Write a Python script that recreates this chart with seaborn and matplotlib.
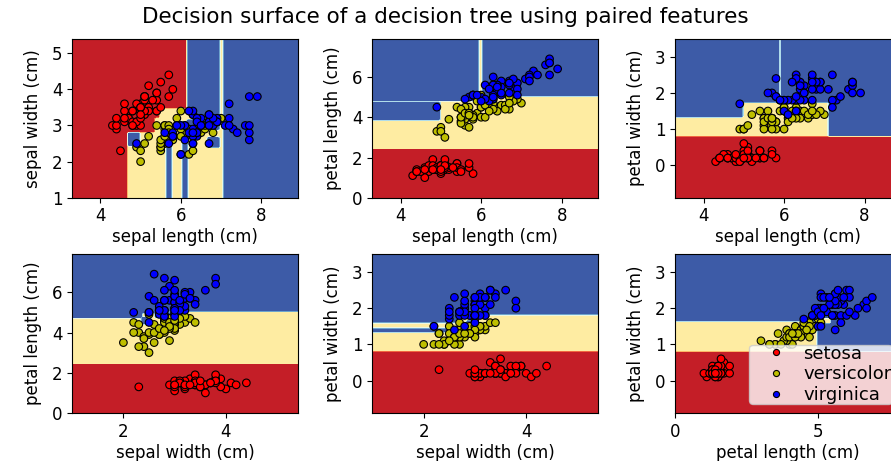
import numpy as np
import matplotlib
matplotlib.use("Agg")
import matplotlib.pyplot as plt
from matplotlib.ticker import MultipleLocator
import seaborn as sns

# iris measurements (cm), 50 setosa, 50 versicolor, 50 virginica
sepal_length = [
    5.1, 4.9, 4.7, 4.6, 5.0, 5.4, 4.6, 5.0, 4.4, 4.9, 5.4, 4.8, 4.8, 4.3, 5.8, 5.7, 5.4, 5.1, 5.7, 5.1,
    5.4, 5.1, 4.6, 5.1, 4.8, 5.0, 5.0, 5.2, 5.2, 4.7, 4.8, 5.4, 5.2, 5.5, 4.9, 5.0, 5.5, 4.9, 4.4, 5.1,
    5.0, 4.5, 4.4, 5.0, 5.1, 4.8, 5.1, 4.6, 5.3, 5.0,
    7.0, 6.4, 6.9, 5.5, 6.5, 5.7, 6.3, 4.9, 6.6, 5.2, 5.0, 5.9, 6.0, 6.1, 5.6, 6.7, 5.6, 5.8, 6.2, 5.6,
    5.9, 6.1, 6.3, 6.1, 6.4, 6.6, 6.8, 6.7, 6.0, 5.7, 5.5, 5.5, 5.8, 6.0, 5.4, 6.0, 6.7, 6.3, 5.6, 5.5,
    5.5, 6.1, 5.8, 5.0, 5.6, 5.7, 5.7, 6.2, 5.1, 5.7,
    6.3, 5.8, 7.1, 6.3, 6.5, 7.6, 4.9, 7.3, 6.7, 7.2, 6.5, 6.4, 6.8, 5.7, 5.8, 6.4, 6.5, 7.7, 7.7, 6.0,
    6.9, 5.6, 7.7, 6.3, 6.7, 7.2, 6.2, 6.1, 6.4, 7.2, 7.4, 7.9, 6.4, 6.3, 6.1, 7.7, 6.3, 6.4, 6.0, 6.9,
    6.7, 6.9, 5.8, 6.8, 6.7, 6.7, 6.3, 6.5, 6.2, 5.9,
]
sepal_width = [
    3.5, 3.0, 3.2, 3.1, 3.6, 3.9, 3.4, 3.4, 2.9, 3.1, 3.7, 3.4, 3.0, 3.0, 4.0, 4.4, 3.9, 3.5, 3.8, 3.8,
    3.4, 3.7, 3.6, 3.3, 3.4, 3.0, 3.4, 3.5, 3.4, 3.2, 3.1, 3.4, 4.1, 4.2, 3.1, 3.2, 3.5, 3.6, 3.0, 3.4,
    3.5, 2.3, 3.2, 3.5, 3.8, 3.0, 3.8, 3.2, 3.7, 3.3,
    3.2, 3.2, 3.1, 2.3, 2.8, 2.8, 3.3, 2.4, 2.9, 2.7, 2.0, 3.0, 2.2, 2.9, 2.9, 3.1, 3.0, 2.7, 2.2, 2.5,
    3.2, 2.8, 2.5, 2.8, 2.9, 3.0, 2.8, 3.0, 2.9, 2.6, 2.4, 2.4, 2.7, 2.7, 3.0, 3.4, 3.1, 2.3, 3.0, 2.5,
    2.6, 3.0, 2.6, 2.3, 2.7, 3.0, 2.9, 2.9, 2.5, 2.8,
    3.3, 2.7, 3.0, 2.9, 3.0, 3.0, 2.5, 2.9, 2.5, 3.6, 3.2, 2.7, 3.0, 2.5, 2.8, 3.2, 3.0, 3.8, 2.6, 2.2,
    3.2, 2.8, 2.8, 2.7, 3.3, 3.2, 2.8, 3.0, 2.8, 3.0, 2.8, 3.8, 2.8, 2.8, 2.6, 3.0, 3.4, 3.1, 3.0, 3.1,
    3.1, 3.1, 2.7, 3.2, 3.3, 3.0, 2.5, 3.0, 3.4, 3.0,
]
petal_length = [
    1.4, 1.4, 1.3, 1.5, 1.4, 1.7, 1.4, 1.5, 1.4, 1.5, 1.5, 1.6, 1.4, 1.1, 1.2, 1.5, 1.3, 1.4, 1.7, 1.5,
    1.7, 1.5, 1.0, 1.7, 1.9, 1.6, 1.6, 1.5, 1.4, 1.6, 1.6, 1.5, 1.5, 1.4, 1.5, 1.2, 1.3, 1.4, 1.3, 1.5,
    1.3, 1.3, 1.3, 1.6, 1.9, 1.4, 1.6, 1.4, 1.5, 1.4,
    4.7, 4.5, 4.9, 4.0, 4.6, 4.5, 4.7, 3.3, 4.6, 3.9, 3.5, 4.2, 4.0, 4.7, 3.6, 4.4, 4.5, 4.1, 4.5, 3.9,
    4.8, 4.0, 4.9, 4.7, 4.3, 4.4, 4.8, 5.0, 4.5, 3.5, 3.8, 3.7, 3.9, 5.1, 4.5, 4.5, 4.7, 4.4, 4.1, 4.0,
    4.4, 4.6, 4.0, 3.3, 4.2, 4.2, 4.2, 4.3, 3.0, 4.1,
    6.0, 5.1, 5.9, 5.6, 5.8, 6.6, 4.5, 6.3, 5.8, 6.1, 5.1, 5.3, 5.5, 5.0, 5.1, 5.3, 5.5, 6.7, 6.9, 5.0,
    5.7, 4.9, 6.7, 4.9, 5.7, 6.0, 4.8, 4.9, 5.6, 5.8, 6.1, 6.4, 5.6, 5.1, 5.6, 6.1, 5.6, 5.5, 4.8, 5.4,
    5.6, 5.1, 5.1, 5.9, 5.7, 5.2, 5.0, 5.2, 5.4, 5.1,
]
petal_width = [
    0.2, 0.2, 0.2, 0.2, 0.2, 0.4, 0.3, 0.2, 0.2, 0.1, 0.2, 0.2, 0.1, 0.1, 0.2, 0.4, 0.4, 0.3, 0.3, 0.3,
    0.2, 0.4, 0.2, 0.5, 0.2, 0.2, 0.4, 0.2, 0.2, 0.2, 0.2, 0.4, 0.1, 0.2, 0.2, 0.2, 0.2, 0.1, 0.2, 0.2,
    0.3, 0.3, 0.2, 0.6, 0.4, 0.3, 0.2, 0.2, 0.2, 0.2,
    1.4, 1.5, 1.5, 1.3, 1.5, 1.3, 1.6, 1.0, 1.3, 1.4, 1.0, 1.5, 1.0, 1.4, 1.3, 1.4, 1.5, 1.0, 1.5, 1.1,
    1.8, 1.3, 1.5, 1.2, 1.3, 1.4, 1.4, 1.7, 1.5, 1.0, 1.1, 1.0, 1.2, 1.6, 1.5, 1.6, 1.5, 1.3, 1.3, 1.3,
    1.2, 1.4, 1.2, 1.0, 1.3, 1.2, 1.3, 1.3, 1.1, 1.3,
    2.5, 1.9, 2.1, 1.8, 2.2, 2.1, 1.7, 1.8, 1.8, 2.5, 2.0, 1.9, 2.1, 2.0, 2.4, 2.3, 1.8, 2.2, 2.3, 1.5,
    2.3, 2.0, 2.0, 1.8, 2.1, 1.8, 1.8, 1.8, 2.1, 1.6, 1.9, 2.0, 2.2, 1.5, 1.4, 2.3, 2.4, 1.8, 1.8, 2.1,
    2.4, 2.3, 1.9, 2.3, 2.5, 2.3, 1.9, 2.0, 2.3, 1.8,
]
species = [0] * 50 + [1] * 50 + [2] * 50
class_names = ["setosa", "versicolor", "virginica"]
feature_names = ["sepal length (cm)", "sepal width (cm)", "petal length (cm)", "petal width (cm)"]
pairs = [[0, 1], [0, 2], [0, 3], [1, 2], [1, 3], [2, 3]]
plot_colors = ["r", "y", "b"]
x_steps = [2, 2, 2, 2, 2, 5]
y_steps = [1, 2, 1, 2, 1, 1]
# which feature wins when two splits are equally good (sklearn picks at random)
tie_order = [[0, 1], [1, 0], [0, 1], [1, 0], [1, 0], [1, 0]]

features = np.column_stack([sepal_length, sepal_width, petal_length, petal_width])
target = np.array(species)


# small CART tree (gini), grown until leaves are pure or can't be split
def gini(y):
    if len(y) == 0:
        return 0.0
    p = np.bincount(y, minlength=3) / len(y)
    return 1.0 - np.sum(p ** 2)


def grow(X, y, order):
    counts = np.bincount(y, minlength=3)
    if (counts > 0).sum() == 1:
        return {"leaf": int(np.argmax(counts))}
    best = None
    best_score = gini(y) * len(y) - 1e-12
    for f in order:
        vals = np.unique(X[:, f])
        for a, b in zip(vals[:-1], vals[1:]):
            thr = (a + b) / 2
            left = X[:, f] <= thr
            score = gini(y[left]) * left.sum() + gini(y[~left]) * (~left).sum()
            if score < best_score - 1e-9:
                best_score = score
                best = (f, thr)
    if best is None:
        return {"leaf": int(np.argmax(counts))}
    f, thr = best
    left = X[:, f] <= thr
    return {"f": f, "t": thr, "l": grow(X[left], y[left], order), "r": grow(X[~left], y[~left], order)}


def predict(node, X):
    if "leaf" in node:
        return np.full(len(X), node["leaf"])
    out = np.empty(len(X), dtype=int)
    left = X[:, node["f"]] <= node["t"]
    out[left] = predict(node["l"], X[left])
    out[~left] = predict(node["r"], X[~left])
    return out


plt.rcParams["font.size"] = 12
fig = plt.figure(figsize=(8.91, 4.61), dpi=100)

lefts = [0.081, 0.418, 0.758]
bottoms = [0.571, 0.104]
w, h = 0.253, 0.345

for idx, pair in enumerate(pairs):
    X = features[:, pair]
    tree = grow(X, target, tie_order[idx])
    ax = fig.add_axes([lefts[idx % 3], bottoms[idx // 3], w, h])

    xs = np.linspace(X[:, 0].min() - 1, X[:, 0].max() + 1, 100)
    ys = np.linspace(X[:, 1].min() - 1, X[:, 1].max() + 1, 100)
    xx, yy = np.meshgrid(xs, ys)
    zz = predict(tree, np.column_stack([xx.ravel(), yy.ravel()])).reshape(xx.shape)
    ax.contourf(xx, yy, zz, cmap=plt.cm.RdYlBu)

    sns.scatterplot(x=X[:, 0], y=X[:, 1], hue=[class_names[i] for i in target],
                    palette=dict(zip(class_names, plot_colors)), edgecolor="black",
                    linewidth=0.8, s=30, ax=ax, legend=(idx == 5))
    ax.xaxis.set_major_locator(MultipleLocator(x_steps[idx]))
    ax.yaxis.set_major_locator(MultipleLocator(y_steps[idx]))
    ax.set_xlabel(feature_names[pair[0]], fontsize=12, labelpad=2)
    ax.set_ylabel(feature_names[pair[1]], fontsize=12, labelpad=7)

ax.legend(loc="lower right", borderpad=0, handletextpad=0, handlelength=3.0,
          fontsize=13, markerscale=0.8, labelspacing=0.15)
fig.suptitle("Decision surface of a decision tree using paired features", fontsize=15.5, y=0.985)

fig.savefig("out.png", dpi=100)
